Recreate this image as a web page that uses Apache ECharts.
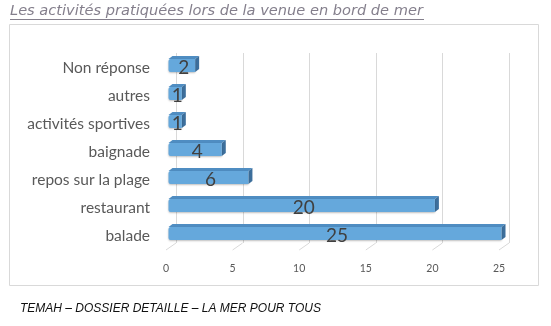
<!DOCTYPE html>
<html>
<head>
<meta charset="utf-8">
<script src="https://cdn.jsdelivr.net/npm/echarts@6/dist/echarts.min.js"></script>
<style>
  html, body { margin: 0; padding: 0; background: #ffffff; }
  #chart { width: 551px; height: 326px; }
</style>
</head>
<body>
<div id="chart"></div>
<script>
// Activities, listed top to bottom, with the number of answers for each
const categories = ['Non réponse', 'autres', 'activités sportives', 'baignade', 'repos sur la plage', 'restaurant', 'balade'];
const counts = [2, 1, 1, 4, 6, 20, 25];
const tickValues = [0, 5, 10, 15, 20, 25];

const titleText = 'Les activités pratiquées lors de la venue en bord de mer';
const footerText = 'TEMAH – DOSSIER DETAILLE – LA MER POUR TOUS';

// depth of the pseudo-3D walls and bars
const WALL_DX = 10, WALL_DY = -7;
const BAR_DX = 4, BAR_DY = -3;
const BAR_SHIFT = 2.5;

const chart = echarts.init(document.getElementById('chart'));

function wallItem(params, api) {
  const v = api.value(0);
  const cs = params.coordSys;
  const x = api.coord([v, 0])[0];
  const yFront = cs.y + cs.height;
  const style = { stroke: '#d9d9d9', lineWidth: 1 };
  return {
    type: 'group',
    children: [
      { type: 'line', shape: { x1: Math.round(x + WALL_DX) + 0.5, y1: cs.y - 1, x2: Math.round(x + WALL_DX) + 0.5, y2: yFront + WALL_DY }, style },
      { type: 'line', shape: { x1: x, y1: yFront, x2: x + WALL_DX, y2: yFront + WALL_DY }, style }
    ]
  };
}

function barItem(params, api) {
  const v = api.value(0);
  const idx = api.value(1);
  const p0 = api.coord([0, idx]);
  const p1 = api.coord([v, idx]);
  const cy = p0[1];
  const x0 = p0[0] + BAR_SHIFT;
  const x1 = p1[0] + BAR_SHIFT;
  const yt = cy - 9, yb = cy + 4;
  return {
    type: 'group',
    children: [
      { type: 'polygon', shape: { points: [[x0, yt], [x0 + BAR_DX, yt + BAR_DY], [x1 + BAR_DX, yt + BAR_DY], [x1, yt]] },
        style: { fill: '#4f8dc2' } },
      { type: 'polygon', shape: { points: [[x1, yt], [x1 + BAR_DX, yt + BAR_DY], [x1 + BAR_DX, yb + BAR_DY], [x1, yb]] },
        style: { fill: '#3d6f9c' } },
      { type: 'rect', shape: { x: x0, y: yt, width: x1 - x0, height: yb - yt, r: [2, 0, 0, 2] },
        style: { fill: '#65a8dc', shadowBlur: 2, shadowColor: 'rgba(0,0,0,0.25)', shadowOffsetY: 1 } },
      { type: 'text', x: (x0 + x1) / 2 + BAR_DX / 2, y: cy,
        style: { text: String(v), fill: '#404040', font: '19px Lato', align: 'center', verticalAlign: 'middle' } }
    ]
  };
}

chart.setOption({
  animation: false,
  grid: { left: 166, right: 52, top: 54, bottom: 76 },
  xAxis: {
    type: 'value', min: 0, max: 25, interval: 5,
    axisLine: { show: false }, axisTick: { show: false }, splitLine: { show: false },
    axisLabel: { color: '#595959', fontFamily: 'Lato', fontSize: 10.5, margin: 13 }
  },
  yAxis: {
    type: 'category', data: categories, inverse: true,
    axisLine: { show: false }, axisTick: { show: false },
    axisLabel: { color: '#595959', fontFamily: 'Lato', fontSize: 15.5, margin: 16 }
  },
  series: [
    { type: 'custom', renderItem: wallItem, data: tickValues.map(v => [v]), silent: true, z: 1 },
    { type: 'custom', renderItem: barItem, data: counts.map((c, i) => [c, i]), z: 2 }
  ],
  graphic: [
    { type: 'rect', shape: { x: 9.5, y: 24.5, width: 529, height: 261 },
      style: { fill: 'none', stroke: '#d9d9d9', lineWidth: 1 }, z: 0 },
    { type: 'text', left: 10, top: 4,
      style: { text: titleText, fill: '#847f8c', font: 'italic 14.6px "DejaVu Sans"' } },
    { type: 'line', shape: { x1: 10, y1: 19.5, x2: 424, y2: 19.5 }, style: { stroke: '#847f8c', lineWidth: 1 } },
    { type: 'text', left: 20, top: 303,
      style: { text: footerText, fill: '#111111', font: 'italic 12px "Liberation Sans"' } }
  ]
});
</script>
</body>
</html>
